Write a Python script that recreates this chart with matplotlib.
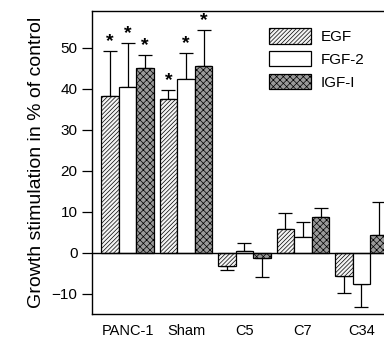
import matplotlib.pyplot as plt
import numpy as np

plt.rcParams['font.family'] = ['Liberation Sans', 'DejaVu Sans']
plt.rcParams['hatch.linewidth'] = 0.5

groups = ['PANC-1', 'Sham', 'C5', 'C7', 'C34']
series = ['EGF', 'FGF-2', 'IGF-I']
egf = [38.3, 37.5, -3.2, 5.9, -5.6]
egf_err = [11.0, 2.3, 1.0, 3.9, 4.2]
fgf = [40.4, 42.4, 0.5, 3.9, -7.6]
fgf_err = [10.8, 6.4, 1.9, 3.7, 5.6]
igf = [45.0, 45.6, -1.2, 8.8, 4.2]
igf_err = [3.4, 8.8, 4.8, 2.2, 8.2]
signif = [True, True, False, False, False]

x = np.arange(len(groups))
w = 0.3
styles = [dict(facecolor='#f4f4f4', hatch='////////'),
          dict(facecolor='white'),
          dict(facecolor='#9a9a9a', hatch='xxxxx')]

fig = plt.figure(figsize=(3.84, 3.37), dpi=100)
ax = fig.add_axes([0.2396, 0.068, 0.7604, 0.899])

for i, (vals, errs) in enumerate([(egf, egf_err), (fgf, fgf_err), (igf, igf_err)]):
    pos = x + (i - 1) * w
    vals = np.array(vals)
    errs = np.array(errs)
    ax.bar(pos, vals, w, edgecolor='black', linewidth=0.9, label=series[i], zorder=2, **styles[i])
    lower = np.where(vals < 0, errs, 0)
    upper = np.where(vals >= 0, errs, 0)
    ax.errorbar(pos, vals, yerr=[lower, upper], fmt='none', ecolor='black',
                elinewidth=0.9, capsize=5, capthick=0.9, zorder=1)
    for p, v, e, s in zip(pos, vals, errs, signif):
        if s:
            ax.text(p, v + e + 0.2, '*', ha='center', va='bottom', fontsize=14, fontweight='bold')

ax.axhline(0, color='black', linewidth=1.0, zorder=3)
ax.set_xlim(-0.607, 4.385)
ax.set_ylim(-15, 59)
ax.set_yticks([-10, 0, 10, 20, 30, 40, 50])
ax.set_xticks(x)
ax.set_xticklabels(groups, fontsize=10.5)
ax.tick_params(axis='x', length=0, pad=7)
ax.tick_params(axis='y', labelsize=11, length=7, width=0.9)
ax.spines['right'].set_visible(False)
for s in ['left', 'top', 'bottom']:
    ax.spines[s].set_linewidth(1.0)
ax.set_ylabel('Growth stimulation in % of control', fontsize=14, labelpad=5)

ax.legend(loc='upper right', bbox_to_anchor=(0.98, 0.99), frameon=False, fontsize=11,
          handlelength=2.8, handleheight=1.2, labelspacing=0.45, handletextpad=0.6)

plt.savefig('out.png', dpi=100)
plt.close(fig)
